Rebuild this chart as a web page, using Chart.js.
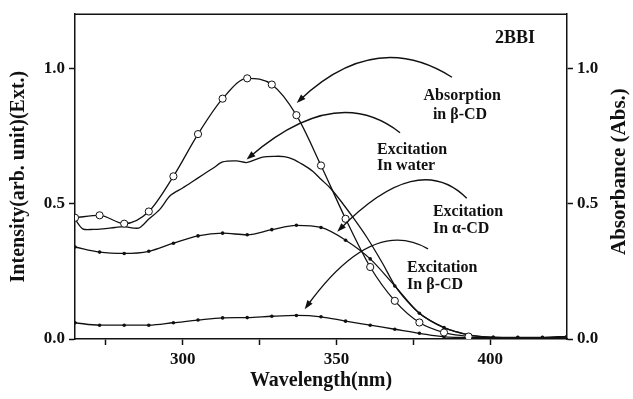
<!DOCTYPE html>
<html>
<head>
<meta charset="utf-8">
<script src="https://cdn.jsdelivr.net/npm/chart.js@4.4.1/dist/chart.umd.min.js"></script>
<style>
  html, body { margin: 0; padding: 0; background: #fff; }
  canvas { display: block; }
</style>
</head>
<body>
<canvas id="spectra" width="633" height="399"></canvas>
<script>
// wavelengths where the symbols sit (every 8 nm)
const markerNm = [265, 273, 281, 289, 297, 305, 313, 321, 329, 337, 345, 353, 361, 369, 377, 385, 393, 401, 409, 417, 425];

// absorption in beta-CD (open circles), stops at 393 nm
const absNm = markerNm.slice(0, 17);
const absorptionBetaCD = [0.448, 0.457, 0.426, 0.471, 0.601, 0.757, 0.888, 0.963, 0.940, 0.827, 0.641, 0.444, 0.266, 0.141, 0.061, 0.024, 0.009];

// excitation in alpha-CD and beta-CD (small dots)
const excitAlphaCD = [0.340, 0.321, 0.316, 0.324, 0.354, 0.381, 0.391, 0.385, 0.404, 0.420, 0.412, 0.365, 0.296, 0.196, 0.095, 0.042, 0.015, 0.006, 0.005, 0.005, 0.007];
const excitBetaCD = [0.060, 0.051, 0.051, 0.051, 0.060, 0.070, 0.078, 0.079, 0.084, 0.087, 0.082, 0.066, 0.051, 0.036, 0.021, 0.008, 0.006, 0.006, 0.006, 0.006, 0.010];

// excitation in water (plain noisy trace)
const waterNm = [265, 267.5, 271, 274, 278, 281, 284, 286, 289, 292.5, 296, 300, 303, 306.6, 310, 313, 317.5, 320.7, 323, 326, 330, 333, 336, 339, 342.4, 345, 348, 351.5, 356, 360, 365, 369, 373, 377, 381, 385, 389, 393, 397, 401, 409, 417, 425];
const excitWater = [0.443, 0.407, 0.405, 0.407, 0.412, 0.415, 0.410, 0.411, 0.443, 0.478, 0.530, 0.558, 0.580, 0.607, 0.632, 0.654, 0.658, 0.652, 0.660, 0.672, 0.675, 0.674, 0.664, 0.645, 0.619, 0.590, 0.558, 0.509, 0.440, 0.374, 0.280, 0.198, 0.140, 0.095, 0.065, 0.042, 0.027, 0.015, 0.009, 0.006, 0.005, 0.005, 0.008];

// axis ticks
const xTickValues = [275, 300, 325, 350, 375, 400];
const xTickLabels = [300, 350, 400];
const yTickValues = [0, 0.5, 1.0];

const serif = '"Liberation Serif", "Times New Roman", serif';
const ink = '#111';

// text labels and curved arrows, in data units (nm, intensity)
const notes = [
  { text: '2BBI', nm: 408.1, v: 1.095, align: 'center', size: 18 },
  { text: 'Absorption', nm: 390.9, v: 0.883, align: 'center' },
  { text: 'in β-CD', nm: 390.2, v: 0.813, align: 'center' },
  { text: 'Excitation', nm: 363.2, v: 0.685, align: 'left' },
  { text: 'In water', nm: 363.2, v: 0.626, align: 'left' },
  { text: 'Excitation', nm: 381.4, v: 0.454, align: 'left' },
  { text: 'In α-CD', nm: 381.4, v: 0.392, align: 'left' },
  { text: 'Excitation', nm: 373.0, v: 0.249, align: 'left' },
  { text: 'In β-CD', nm: 373.0, v: 0.183, align: 'left' }
];
const arrows = [
  { from: [387.6, 0.967], ctrl: [362.7, 1.147], to: [337.1, 0.872] },
  { from: [370.7, 0.762], ctrl: [350.0, 0.947], to: [320.8, 0.663] },
  { from: [392.4, 0.520], ctrl: [376.5, 0.700], to: [350.3, 0.396] },
  { from: [379.8, 0.333], ctrl: [361.6, 0.454], to: [339.7, 0.110] }
];

function pairs(xs, ys) {
  return ys.map((v, i) => ({ x: xs[i], y: v }));
}

const annotate = {
  id: 'annotate',
  afterDatasetsDraw(chart) {
    const { ctx, chartArea: a, scales: { x, y } } = chart;
    ctx.save();
    ctx.fillStyle = ink;
    ctx.strokeStyle = ink;

    // top frame line
    ctx.lineWidth = 1.5;
    ctx.beginPath();
    ctx.moveTo(a.left, a.top);
    ctx.lineTo(a.right, a.top);
    ctx.stroke();

    // arrows
    ctx.lineWidth = 1.4;
    arrows.forEach(ar => {
      const p0 = { x: x.getPixelForValue(ar.from[0]), y: y.getPixelForValue(ar.from[1]) };
      const c = { x: x.getPixelForValue(ar.ctrl[0]), y: y.getPixelForValue(ar.ctrl[1]) };
      const p2 = { x: x.getPixelForValue(ar.to[0]), y: y.getPixelForValue(ar.to[1]) };
      const ang = Math.atan2(p2.y - c.y, p2.x - c.x);
      const len = 9, half = 3.2;
      ctx.beginPath();
      ctx.moveTo(p0.x, p0.y);
      ctx.quadraticCurveTo(c.x, c.y, p2.x - 4 * Math.cos(ang), p2.y - 4 * Math.sin(ang));
      ctx.stroke();
      ctx.beginPath();
      ctx.moveTo(p2.x, p2.y);
      ctx.lineTo(p2.x - len * Math.cos(ang) + half * Math.sin(ang), p2.y - len * Math.sin(ang) - half * Math.cos(ang));
      ctx.lineTo(p2.x - len * Math.cos(ang) - half * Math.sin(ang), p2.y - len * Math.sin(ang) + half * Math.cos(ang));
      ctx.closePath();
      ctx.fill();
    });

    // labels
    ctx.textBaseline = 'alphabetic';
    notes.forEach(n => {
      ctx.font = 'bold ' + (n.size || 16) + 'px ' + serif;
      ctx.textAlign = n.align;
      ctx.fillText(n.text, x.getPixelForValue(n.nm), y.getPixelForValue(n.v));
    });

    // right axis title, reading upwards
    ctx.font = 'bold 21px ' + serif;
    ctx.textAlign = 'center';
    ctx.textBaseline = 'middle';
    ctx.translate(chart.width - 13, (a.top + a.bottom) / 2 - 5);
    ctx.rotate(-Math.PI / 2);
    ctx.fillText('Absorbance (Abs.)', 0, 0);
    ctx.restore();
  }
};

const tickFont = { family: serif, size: 17, weight: 'bold' };
const axisGrid = {
  drawOnChartArea: false,
  drawTicks: true,
  tickLength: 6,
  tickColor: ink,
  tickWidth: 1.5
};
const axisBorder = { display: true, color: ink, width: 1.5 };

new Chart(document.getElementById('spectra'), {
  type: 'line',
  data: {
    datasets: [
      {
        label: 'Absorption in β-CD',
        data: pairs(absNm, absorptionBetaCD),
        yAxisID: 'y2',
        borderColor: ink,
        borderWidth: 1.3,
        cubicInterpolationMode: 'monotone',
        pointRadius: 3.6,
        pointBackgroundColor: '#fff',
        pointBorderColor: ink,
        pointBorderWidth: 1
      },
      {
        label: 'Excitation in water',
        data: pairs(waterNm, excitWater),
        borderColor: ink,
        borderWidth: 1.3,
        tension: 0.3,
        pointRadius: 0
      },
      {
        label: 'Excitation in α-CD',
        data: pairs(markerNm, excitAlphaCD),
        borderColor: ink,
        borderWidth: 1.3,
        cubicInterpolationMode: 'monotone',
        pointRadius: 1.8,
        pointBackgroundColor: ink,
        pointBorderWidth: 0
      },
      {
        label: 'Excitation in β-CD',
        data: pairs(markerNm, excitBetaCD),
        borderColor: ink,
        borderWidth: 1.3,
        cubicInterpolationMode: 'monotone',
        pointRadius: 1.8,
        pointBackgroundColor: ink,
        pointBorderWidth: 0
      }
    ]
  },
  options: {
    responsive: false,
    animation: false,
    layout: { padding: { top: 12, left: 0, right: 0, bottom: 0 } },
    plugins: { legend: { display: false }, tooltip: { enabled: false } },
    scales: {
      x: {
        type: 'linear',
        min: 265,
        max: 425,
        afterBuildTicks: s => { s.ticks = xTickValues.map(v => ({ value: v })); },
        afterFit: s => { s.height = 60; },
        grid: axisGrid,
        border: axisBorder,
        ticks: {
          font: tickFont,
          color: ink,
          padding: 4,
          maxRotation: 0,
          autoSkip: false,
          callback: v => xTickLabels.includes(v) ? String(v) : ''
        },
        title: {
          display: true,
          text: 'Wavelength(nm)',
          font: { family: serif, size: 20, weight: 'bold' },
          color: ink,
          padding: { top: 0, bottom: 6 }
        }
      },
      y: {
        position: 'left',
        min: 0,
        max: 1.2,
        afterBuildTicks: s => { s.ticks = yTickValues.map(v => ({ value: v })); },
        afterFit: s => { s.width = 75; },
        grid: axisGrid,
        border: axisBorder,
        ticks: { font: tickFont, color: ink, padding: 4, callback: v => v.toFixed(1) },
        title: {
          display: true,
          text: 'Intensity(arb. unit)(Ext.)',
          font: { family: serif, size: 20, weight: 'bold' },
          color: ink,
          padding: { top: 7, bottom: 0 }
        }
      },
      y2: {
        position: 'right',
        min: 0,
        max: 1.2,
        afterBuildTicks: s => { s.ticks = yTickValues.map(v => ({ value: v })); },
        afterFit: s => { s.width = 66; },
        grid: axisGrid,
        border: axisBorder,
        ticks: { font: tickFont, color: ink, padding: 4, callback: v => v.toFixed(1) }
      }
    }
  },
  plugins: [annotate]
});
</script>
</body>
</html>
